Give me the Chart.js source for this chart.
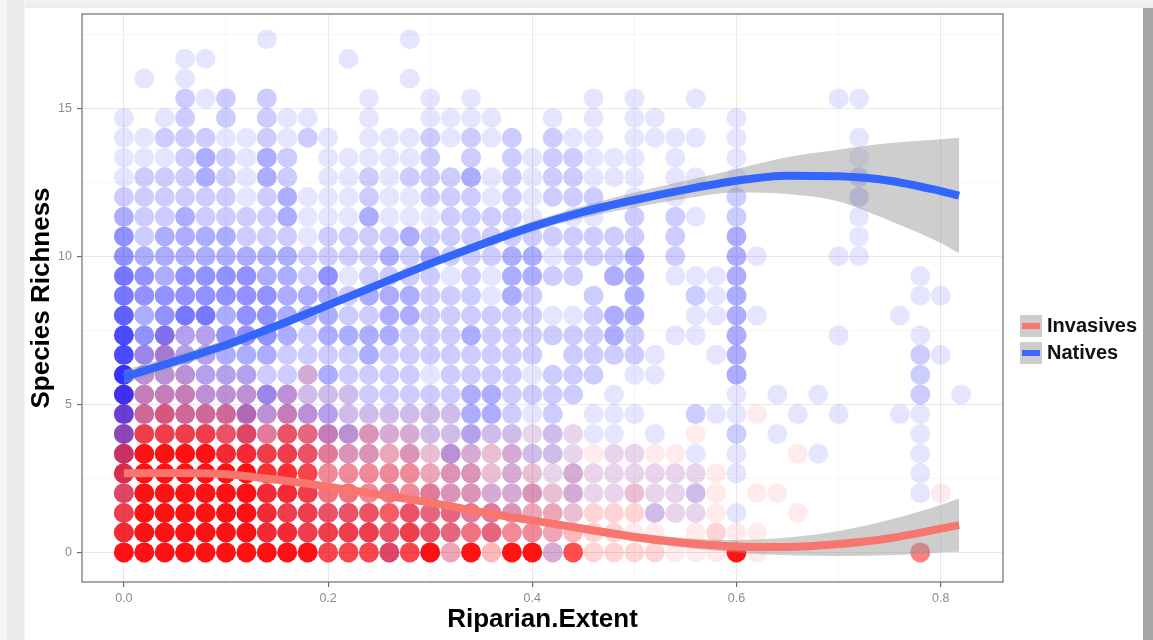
<!DOCTYPE html>
<html>
<head>
<meta charset="utf-8">
<script src="https://cdn.jsdelivr.net/npm/chart.js@4.4.1/dist/chart.umd.min.js"></script>
<style>
  body { margin: 0; background: #fff; }
  #wrap { position: relative; width: 1153px; height: 640px; overflow: hidden; background: #fff; }
  .edge-top { position: absolute; left: 0; top: 0; width: 1153px; height: 8px; background: linear-gradient(#f3f3f3, #ebebeb); }
  .edge-left { position: absolute; left: 0; top: 0; width: 25px; height: 640px;
    background: linear-gradient(to right, #f5f5f5 0 7px, #ebebeb 7px 24px, #f6f6f6 24px); }
  .edge-right { position: absolute; left: 1143px; top: 8px; width: 10px; height: 632px; background: #a6a6a6; }
  canvas { position: absolute; left: 0; top: 0; }
  .legend { position: absolute; left: 1020px; top: 312px; font: bold 20px "Liberation Sans", Arial, sans-serif; color: #111; }
  .legend .item { display: flex; align-items: center; height: 27px; }
  .legend .key { width: 22px; height: 22px; background: #cdcdcd; margin-right: 5px; display: flex; align-items: center; justify-content: center; }
  .legend .key i { display: block; width: 18px; height: 6px; }
</style>
</head>
<body>
<div id="wrap">
  <div class="edge-top"></div>
  <div class="edge-left"></div>
  <div class="edge-right"></div>
  <canvas id="chart" width="1153" height="640" style="width:1153px;height:640px"></canvas>
  <div class="legend">
    <div class="item"><span class="key"><i style="background:#f8766d"></i></span>Invasives</div>
    <div class="item"><span class="key"><i style="background:#3d68f5"></i></span>Natives</div>
  </div>
</div>
<script>
const font = "'Liberation Sans', Arial, sans-serif";
const red  = "#f8766d";
const blue = "#3366ff";
const band = "rgba(150,150,150,0.47)";

// axes
const xTicks      = [0, 0.1, 0.2, 0.3, 0.4, 0.5, 0.6, 0.7, 0.8];
const xTickLabels = ["0.0", "", "0.2", "", "0.4", "", "0.6", "", "0.8"];
const yTicks      = [0, 2.5, 5, 7.5, 10, 12.5, 15, 17.5];
const yTickLabels = ["0", "", "5", "", "10", "", "15", ""];

// point grid: x bins of Riparian.Extent, richness levels
const xBins = [0, 0.02, 0.04, 0.06, 0.08, 0.1, 0.12, 0.14, 0.16, 0.18, 0.2, 0.22, 0.24, 0.26,
  0.28, 0.3, 0.32, 0.34, 0.36, 0.38, 0.4, 0.42, 0.44, 0.46, 0.48, 0.5, 0.52, 0.54, 0.56, 0.58,
  0.6, 0.62, 0.64, 0.66, 0.68, 0.7, 0.72, 0.74, 0.76, 0.78, 0.8, 0.82];
const yLevels = [0, 0.67, 1.33, 2, 2.67, 3.33, 4, 4.67, 5.33, 6, 6.67, 7.33, 8, 8.67, 9.33, 10,
  10.67, 11.33, 12, 12.67, 13.33, 14, 14.67, 15.33, 16, 16.67, 17.33];

// how many overlapping points sit in each cell (0-9), one string per level, bottom up
const nativesRows = [
  "11111 11111 11131 21000 02000 00000 00000 00000 00",
  "21111 12222 22222 22121 11000 00000 00000 00000 00",
  "21111 22222 22212 22222 11100 02110 10000 00000 00",
  "31111 12222 11121 22222 21211 11120 00000 00001 00",
  "41111 11111 11111 12212 11211 11110 10000 00001 00",
  "51111 22222 22212 13212 22101 10010 10001 00001 00",
  "62222 23222 33222 22322 12111 01000 20100 00001 00",
  "73333 34333 32222 22332 12011 10021 10010 10011 00",
  "83333 33432 22222 22332 22201 00000 10101 00002 01",
  "83333 33222 32222 12222 12220 11000 30000 00002 00",
  "74433 33322 22322 22222 20222 21001 30000 00002 10",
  "74533 44432 33332 22322 22223 20110 30000 10001 00",
  "63455 34433 32233 22222 21123 30011 31000 00010 00",
  "54444 44433 32333 22213 20020 30021 30000 00001 10",
  "54344 44332 41222 21213 32203 30111 30000 00001 00",
  "43333 33332 22232 32223 31222 30200 31000 11000 00",
  "42333 32221 22223 22222 22222 20200 30000 01000 00",
  "32232 22231 11311 12222 10110 20210 20000 01000 00",
  "22222 21231 11211 22212 12220 10100 20000 02000 00",
  "12223 21320 11212 22312 12211 10110 10000 02000 00",
  "11123 21320 11111 20202 12211 10100 10000 01000 00",
  "11222 11212 10111 21212 02110 11110 10000 01000 00",
  "10120 20211 00100 11110 01010 11000 10000 00000 00",
  "00021 20200 00100 10100 00010 10010 00000 11000 00",
  "01010 00000 00001 00000 00000 00000 00000 00000 00",
  "00011 00000 01000 00000 00000 00000 00000 00000 00",
  "00000 00100 00001 00000 00000 00000 00000 00000 00",
];
const invasivesRows = [
  "99999 99999 77767 93939 92722 22111 91000 00005 00",
  "89999 99887 77767 65554 43322 11012 11000 00000 00",
  "79999 99877 66666 55443 33222 21111 00010 00000 00",
  "69999 99887 55444 43322 32211 21111 01100 00000 10",
  "79999 99887 44444 33322 21211 11111 00000 00000 00",
  "69999 88776 43333 22222 11111 11100 00010 00000 00",
  "37777 66465 32322 11111 11100 00010 00000 00000 00",
  "24544 43232 11111 11000 00000 00000 01000 00000 00",
  "13332 22121 11000 00000 00000 00000 00000 00000 00",
  "02221 11002 00000 00000 00000 00000 00000 00000 00",
  "01211 00000 00000 00000 00000 00000 00000 00000 00",
  "00111 00000 00000 00000 00000 00000 00000 00000 00",
];

// smoothers with their confidence bands
const curveX        = [0, 0.05, 0.1, 0.15, 0.2, 0.25, 0.3, 0.35, 0.4, 0.45, 0.5, 0.55, 0.6, 0.65, 0.7, 0.75, 0.8, 0.818];
const nativesFit    = [5.92, 6.45, 7.0, 7.65, 8.35, 9.05, 9.75, 10.4, 11.0, 11.5, 11.9, 12.25, 12.55, 12.72, 12.7, 12.55, 12.2, 12.05];
const nativesHi     = [6.15, 6.65, 7.17, 7.8, 8.5, 9.2, 9.9, 10.55, 11.17, 11.7, 12.15, 12.55, 12.95, 13.35, 13.6, 13.82, 13.95, 14.0];
const nativesLo     = [5.69, 6.25, 6.83, 7.5, 8.2, 8.9, 9.6, 10.25, 10.83, 11.3, 11.65, 11.95, 12.15, 12.1, 11.85, 11.2, 10.45, 10.1];
const invasivesFit  = [2.67, 2.68, 2.64, 2.45, 2.22, 1.95, 1.68, 1.36, 1.08, 0.8, 0.52, 0.32, 0.2, 0.18, 0.28, 0.48, 0.8, 0.92];
const invasivesHi   = [2.8, 2.78, 2.74, 2.56, 2.33, 2.06, 1.8, 1.48, 1.2, 0.93, 0.66, 0.48, 0.42, 0.5, 0.72, 1.1, 1.6, 1.82];
const invasivesLo   = [2.54, 2.58, 2.54, 2.34, 2.11, 1.84, 1.56, 1.24, 0.96, 0.67, 0.38, 0.16, 0.0, -0.1, -0.12, -0.1, 0.0, 0.02];

// opacity per density level
const alphaNat = [0, 0.1, 0.2, 0.32, 0.43, 0.53, 0.62, 0.71, 0.8, 0.87];
const alphaInv = [0, 0.08, 0.17, 0.28, 0.4, 0.5, 0.6, 0.7, 0.8, 0.92];

function cells(rows) {
  const pts = [];
  rows.forEach((row, k) => {
    [...row.replace(/ /g, "")].forEach((ch, i) => {
      if (ch !== "0") pts.push({ x: xBins[i], y: yLevels[k], d: +ch });
    });
  });
  return pts;
}
const curve = ys => curveX.map((x, i) => ({ x, y: ys[i] }));

const edge = { type: "line", pointRadius: 0, borderWidth: 0, cubicInterpolationMode: "monotone", order: 3 };
const fit  = { type: "line", pointRadius: 0, borderWidth: 8, borderCapStyle: "butt", cubicInterpolationMode: "monotone", fill: false };

const panelBorder = {
  id: "panelBorder",
  afterDraw(chart) {
    const { ctx, chartArea: a } = chart;
    ctx.save();
    ctx.strokeStyle = "#7a7a7a";
    ctx.lineWidth = 1.3;
    ctx.strokeRect(a.left, a.top, a.right - a.left, a.bottom - a.top);
    ctx.restore();
  }
};

const tickFont = { family: font, size: 12.5 };
const titleFont = { family: font, size: 26, weight: "bold" };

new Chart(document.getElementById("chart"), {
  type: "scatter",
  data: {
    datasets: [
      { label: "Natives", data: cells(nativesRows), order: 6, pointRadius: 10, pointBorderWidth: 0,
        backgroundColor: c => `rgba(0,0,255,${alphaNat[c.raw ? c.raw.d : 0]})` },
      { label: "Invasives", data: cells(invasivesRows), order: 5, pointRadius: 10, pointBorderWidth: 0,
        backgroundColor: c => `rgba(255,0,0,${alphaInv[c.raw ? c.raw.d : 0]})` },
      { ...edge, data: curve(nativesHi), fill: false },
      { ...edge, data: curve(nativesLo), fill: "-1", backgroundColor: band },
      { ...edge, data: curve(invasivesHi), fill: false },
      { ...edge, data: curve(invasivesLo), fill: "-1", backgroundColor: band },
      { ...fit, label: "Invasives fit", data: curve(invasivesFit), borderColor: red, order: 2 },
      { ...fit, label: "Natives fit", data: curve(nativesFit), borderColor: blue, order: 1 },
    ]
  },
  options: {
    responsive: false,
    animation: false,
    events: [],
    layout: { padding: { top: 14, right: 150, bottom: 0, left: 0 } },
    plugins: { legend: { display: false }, tooltip: { enabled: false } },
    scales: {
      x: {
        type: "linear", min: -0.041, max: 0.861,
        afterBuildTicks: s => { s.ticks = xTicks.map(v => ({ value: v })); },
        afterFit: s => { s.height = 58; },
        ticks: { autoSkip: false, maxRotation: 0, padding: 4, color: "#8c8c8c", font: tickFont,
                 callback: (v, i) => xTickLabels[i] },
        grid: { color: c => xTickLabels[c.index] ? "#e9e9e9" : "#f2f2f2",
                lineWidth: c => xTickLabels[c.index] ? 1.1 : 0.8,
                tickLength: 5, tickColor: c => xTickLabels[c.index] ? "#666" : "rgba(0,0,0,0)" },
        border: { display: false },
        title: { display: true, text: "Riparian.Extent", color: "#000", font: titleFont, padding: { top: 0, bottom: 5 } }
      },
      y: {
        type: "linear", min: -1.0, max: 18.18,
        afterBuildTicks: s => { s.ticks = yTicks.map(v => ({ value: v })); },
        afterFit: s => { s.width = 82; },
        ticks: { autoSkip: false, padding: 5, color: "#8c8c8c", font: tickFont,
                 callback: (v, i) => yTickLabels[i] },
        grid: { color: c => yTickLabels[c.index] ? "#e9e9e9" : "#f2f2f2",
                lineWidth: c => yTickLabels[c.index] ? 1.1 : 0.8,
                tickLength: 5, tickColor: c => yTickLabels[c.index] ? "#666" : "rgba(0,0,0,0)" },
        border: { display: false },
        title: { display: true, text: "Species Richness", color: "#000", font: titleFont, padding: { top: 26, bottom: 0 } }
      }
    }
  },
  plugins: [panelBorder]
});
</script>
</body>
</html>
